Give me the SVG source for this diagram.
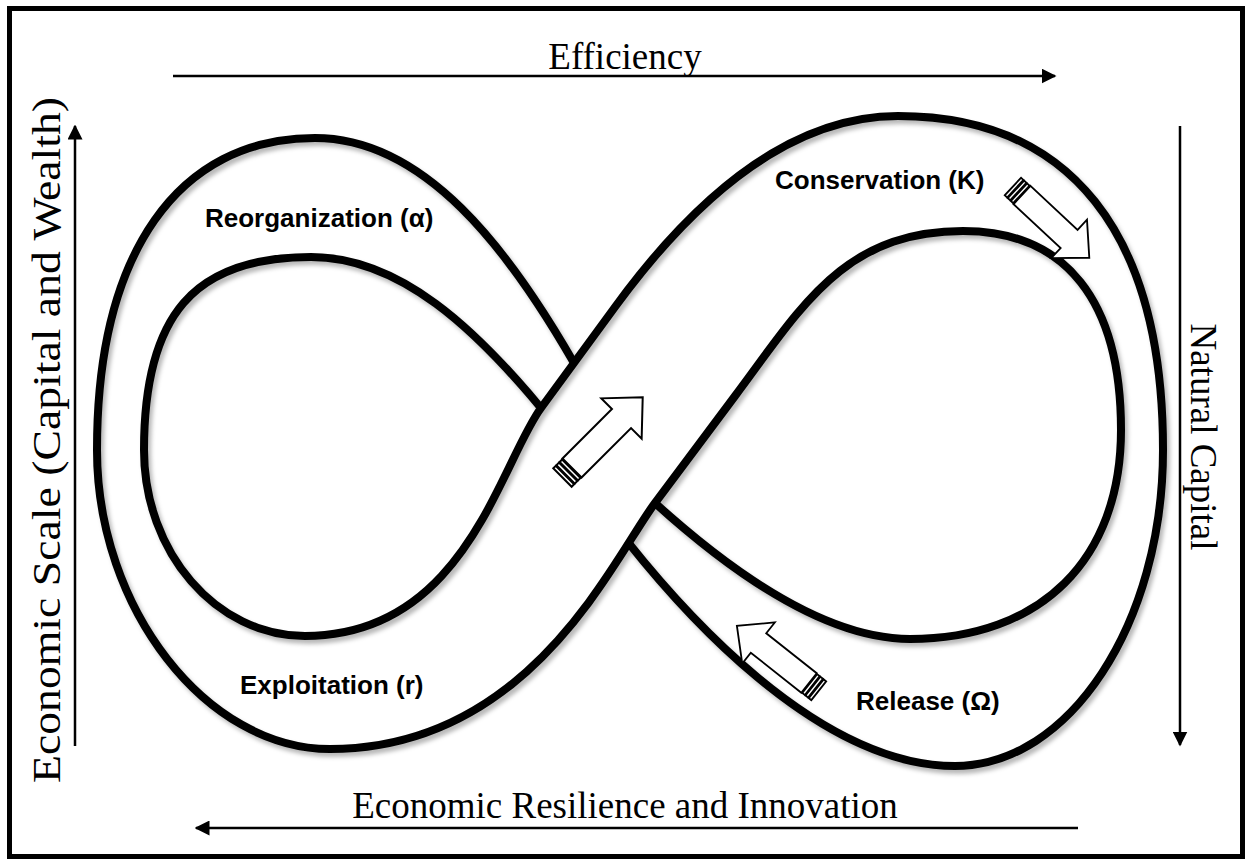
<svg xmlns="http://www.w3.org/2000/svg" width="1248" height="861" viewBox="0 0 1248 861">
<style>
.band{fill:none;stroke:#000;stroke-width:8;stroke-linecap:butt;stroke-linejoin:round}
.ax{stroke:#000;stroke-width:2.5;fill:none}
.serif{font-family:"Liberation Serif","Times New Roman",serif;font-size:37px;fill:#000}
.lbl{font-family:"Liberation Sans",Arial,sans-serif;font-weight:bold;font-size:26px;fill:#000}
.blk{fill:#fff;stroke:#000;stroke-width:2;stroke-linejoin:miter}
</style>
<defs>
<filter id="sh" x="-5%" y="-5%" width="110%" height="110%">
<feDropShadow dx="3" dy="4" stdDeviation="2" flood-color="#000" flood-opacity="0.28"/>
</filter>
<marker id="ah" viewBox="0 0 10 10" refX="9" refY="5" markerWidth="6" markerHeight="6" markerUnits="strokeWidth" orient="auto">
<path d="M0,0 L10,5 L0,10 z" fill="#000"/>
</marker>
<g id="blockArrow">
<polygon class="blk" points="0,-13.5 70,-13.5 70,-28.5 100,0 70,28.5 70,13.5 0,13.5"/>
<rect class="blk" x="-4.5" y="-13" width="3.5" height="26" stroke-width="1.6"/>
<rect class="blk" x="-9" y="-13" width="3.5" height="26" stroke-width="1.6"/>
<rect class="blk" x="-13.5" y="-13" width="3.5" height="26" stroke-width="1.6"/>
</g>
</defs>
<rect x="0" y="0" width="1248" height="861" fill="#fff"/>
<rect id="frame" x="9.5" y="8.5" width="1233" height="848" fill="none" stroke="#000" stroke-width="5"/>

<g id="figure-eight" filter="url(#sh)">
<path id="edge-outer-left-hole-right" class="band" d="M574,363 C509,250 425,138 315,138 C177.7,138 97,253.4 97,450 C97,608.5 206.5,749 330,749 C530,749 613,559 655,503 L735,396 C801,308 843,231 963,231 C1065.7,231 1121,300.6 1121,430 C1121,559.6 1040.8,639 910,639 C810,639 699.4,543.2 655,503"/>
<path id="edge-left-hole-outer-right" class="band" d="M541,408 C477,331 401,257 311,257 C194,257 144,315 144,450 C144,552 216,636 305,636 C465,636 499.6,464.4 541,408 L615,307 C680,218 778,116 898,116 C1070,116 1163,232.9 1163,450 C1163,623.8 1069.4,766 955,766 C815,766 677.4,604.4 627,541"/>
</g>

<g id="flow-arrows">
<use id="arrow-exploitation" href="#blockArrow" transform="translate(572,468) rotate(-45)"/>
<use id="arrow-conservation" href="#blockArrow" transform="translate(1022,195) rotate(43) scale(0.92)"/>
<use id="arrow-release" href="#blockArrow" transform="translate(809,683) rotate(218.4) scale(0.92)"/>
</g>

<g id="phase-labels">
<text id="label-reorganization" class="lbl" x="205" y="227">Reorganization (α)</text>
<text id="label-conservation" class="lbl" x="775" y="189">Conservation (K)</text>
<text id="label-exploitation" class="lbl" x="240" y="694">Exploitation (r)</text>
<text id="label-release" class="lbl" x="856" y="710">Release (Ω)</text>
</g>

<g id="axes">
<line class="ax" x1="173" y1="76" x2="1055" y2="76" marker-end="url(#ah)"/>
<line class="ax" x1="1078" y1="828" x2="196" y2="828" marker-end="url(#ah)"/>
<line class="ax" x1="75" y1="746" x2="75" y2="126" marker-end="url(#ah)"/>
<line class="ax" x1="1180" y1="126" x2="1180" y2="745" marker-end="url(#ah)"/>
</g>

<g id="axis-labels">
<text id="axis-efficiency" class="serif" x="625" y="69" text-anchor="middle">Efficiency</text>
<text id="axis-resilience" class="serif" x="625" y="818" text-anchor="middle">Economic Resilience and Innovation</text>
<text id="axis-scale" class="serif" style="font-size:40px" text-anchor="middle" textLength="686" lengthAdjust="spacingAndGlyphs" transform="translate(60,440) rotate(-90)">Economic Scale (Capital and Wealth)</text>
<text id="axis-natural" class="serif" text-anchor="middle" transform="translate(1191,437) rotate(90)">Natural Capital</text>
</g>
</svg>
